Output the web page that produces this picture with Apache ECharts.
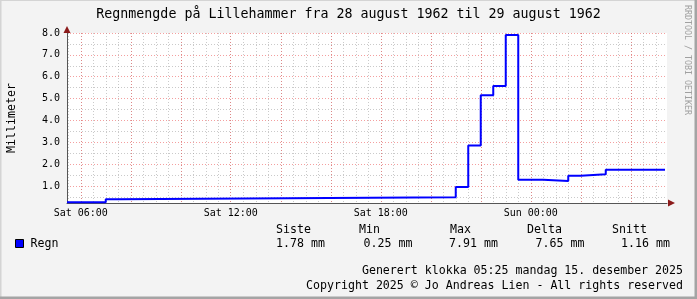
<!DOCTYPE html>
<html>
<head>
<meta charset="utf-8">
<script src="https://cdn.jsdelivr.net/npm/echarts@6.0.0/dist/echarts.min.js"></script>
<style>
html,body{margin:0;padding:0;background:#f3f3f3;}
#c{width:697px;height:299px;}
</style>
</head>
<body>
<div id="c"></div>
<script>
// ---- data (hours since Saturday 00:00) ----
const times  = [5.45, 7.0, 7.5, 21.0, 21.5, 22.0, 22.5, 23.0, 23.5, 24.5, 25.5, 26.0, 27.0, 29.37];
const values = [0.25, 0.39, 0.48, 0.95, 2.85, 5.15, 5.57, 7.91, 1.28, 1.23, 1.47, 1.54, 1.74, 1.74];

const xMin = 5.45, xMax = 29.45;
const yMin = 0.22, yMax = 8.0;

const xLabelHours = [6, 12, 18, 24];
const xLabelTexts = ['Sat 06:00', 'Sat 12:00', 'Sat 18:00', 'Sun 00:00'];
const xMajorHours = [6, 8, 10, 12, 14, 16, 18, 20, 22, 24, 26, 28];
const yMajor = [1, 2, 3, 4, 5, 6, 7, 8];
const yMinor = [0.5, 1.5, 2.5, 3.5, 4.5, 5.5, 6.5, 7.5];

const titleText = 'Regnmengde på Lillehammer fra 28 august 1962 til 29 august 1962';
const yName = 'Millimeter';
const seriesName = 'Regn';
const statHeads = ['Siste', 'Min', 'Max', 'Delta', 'Snitt'];
const statVals  = ['1.78 mm', '0.25 mm', '7.91 mm', '7.65 mm', '1.16 mm'];
const footer1 = 'Generert klokka 05:25 mandag 15. desember 2025';
const footer2 = 'Copyright 2025 © Jo Andreas Lien - All rights reserved';
const watermark = 'RRDTOOL / TOBI OETIKER';

// minor x grid every half hour (grid positions, not data)
const xMinorHours = [];
for (let h = 5.5; h < xMax; h += 0.5) xMinorHours.push(h);

const FONT = 'DejaVu Sans Mono';
const gridL = 67, gridT = 33, gridW = 600, gridH = 170;

const minorLine = {color: 'rgba(150,150,150,0.5)', width: 1, type: [1, 2]};
const majorLine = {color: 'rgba(235,80,80,0.55)', width: 1, type: [1, 2]};

const chart = echarts.init(document.getElementById('c'), null, {renderer: 'canvas'});

const statX = [276, 359, 450, 527, 612];
const valX  = [276, 363.5, 449, 535.5, 621];

const graphics = [];
// frame
graphics.push({type: 'rect', shape: {x: 0, y: 0, width: 697, height: 1}, style: {fill: '#d4d4d4'}, silent: true});
graphics.push({type: 'rect', shape: {x: 0, y: 0, width: 1.5, height: 299}, style: {fill: '#d4d4d4'}, silent: true});
graphics.push({type: 'rect', shape: {x: 694.5, y: 0, width: 2.5, height: 299}, style: {fill: '#a4a4a4'}, silent: true});
graphics.push({type: 'rect', shape: {x: 0, y: 296.5, width: 697, height: 2.5}, style: {fill: '#a4a4a4'}, silent: true});
// axis arrows
graphics.push({type: 'polygon', shape: {points: [[gridL - 3.5, gridT], [gridL + 3.5, gridT], [gridL, gridT - 7]]}, style: {fill: '#8b1a1a'}, silent: true, z: 10});
graphics.push({type: 'polygon', shape: {points: [[gridL + gridW + 1, gridT + gridH - 3.5], [gridL + gridW + 1, gridT + gridH + 3.5], [gridL + gridW + 8, gridT + gridH]]}, style: {fill: '#8b1a1a'}, silent: true, z: 10});
// y axis name
graphics.push({type: 'text', x: 12, y: 118, rotation: Math.PI / 2,
  style: {text: yName, font: '11.6px "' + FONT + '"', fill: '#000', align: 'center', verticalAlign: 'middle'}, silent: true});
// watermark
graphics.push({type: 'text', x: 687, y: 60, rotation: -Math.PI / 2,
  style: {text: watermark, font: '8.3px "' + FONT + '"', fill: '#a0a0a0', align: 'center', verticalAlign: 'middle'}, silent: true});
// legend
graphics.push({type: 'rect', shape: {x: 15.5, y: 239.5, width: 8, height: 8}, style: {fill: '#0000ff', stroke: '#000', lineWidth: 1}, silent: true});
graphics.push({type: 'text', x: 30.5, y: 243.5,
  style: {text: seriesName, font: '11.6px "' + FONT + '"', fill: '#000', align: 'left', verticalAlign: 'middle'}, silent: true});
statHeads.forEach((t, i) => {
  graphics.push({type: 'text', x: statX[i], y: 229.5,
    style: {text: t, font: '11.6px "' + FONT + '"', fill: '#000', align: 'left', verticalAlign: 'middle'}, silent: true});
});
statVals.forEach((t, i) => {
  graphics.push({type: 'text', x: valX[i], y: 243.5,
    style: {text: t, font: '11.6px "' + FONT + '"', fill: '#000', align: 'left', verticalAlign: 'middle'}, silent: true});
});
graphics.push({type: 'text', x: 683, y: 270.5,
  style: {text: footer1, font: '11.6px "' + FONT + '"', fill: '#000', align: 'right', verticalAlign: 'middle'}, silent: true});
graphics.push({type: 'text', x: 683, y: 285.5,
  style: {text: footer2, font: '11.6px "' + FONT + '"', fill: '#000', align: 'right', verticalAlign: 'middle'}, silent: true});

const option = {
  animation: false,
  backgroundColor: '#f3f3f3',
  title: {
    text: titleText, left: 'center', top: 3,
    textStyle: {fontFamily: FONT, fontSize: 13.3, fontWeight: 'normal', color: '#000'}
  },
  grid: {left: gridL, top: gridT, width: gridW, height: gridH, show: true, backgroundColor: '#ffffff', borderWidth: 0, containLabel: false},
  xAxis: [
    {type: 'value', min: xMin, max: xMax, position: 'bottom',
      axisLine: {show: false}, axisTick: {show: false, customValues: xMinorHours},
      axisLabel: {show: false}, splitLine: {show: true, lineStyle: minorLine}},
    {type: 'value', min: xMin, max: xMax, position: 'bottom',
      axisLine: {show: true, onZero: false, lineStyle: {color: '#555', width: 1}},
      axisTick: {show: false, customValues: xMajorHours},
      axisLabel: {show: true, customValues: xLabelHours, margin: 5, color: '#000', fontFamily: FONT, fontSize: 10,
        formatter: v => xLabelTexts[xLabelHours.indexOf(Math.round(v))]},
      splitLine: {show: true, lineStyle: majorLine}}
  ],
  yAxis: [
    {type: 'value', min: yMin, max: yMax, position: 'left',
      axisLine: {show: false}, axisTick: {show: false, customValues: yMinor},
      axisLabel: {show: false}, splitLine: {show: true, lineStyle: minorLine}},
    {type: 'value', min: yMin, max: yMax, position: 'left',
      axisLine: {show: true, onZero: false, lineStyle: {color: '#555', width: 1}},
      axisTick: {show: false, customValues: yMajor},
      axisLabel: {show: true, customValues: yMajor, margin: 7, color: '#000', fontFamily: FONT, fontSize: 10,
        formatter: v => v.toFixed(1)},
      splitLine: {show: true, lineStyle: majorLine}}
  ],
  series: [{
    name: seriesName, type: 'line', xAxisIndex: 1, yAxisIndex: 1,
    step: 'end', showSymbol: false, symbol: 'none', z: 5,
    lineStyle: {color: '#0000ff', width: 2},
    data: times.map((t, i) => [t, values[i]])
  }],
  graphic: graphics
};
chart.setOption(option);
</script>
</body>
</html>
